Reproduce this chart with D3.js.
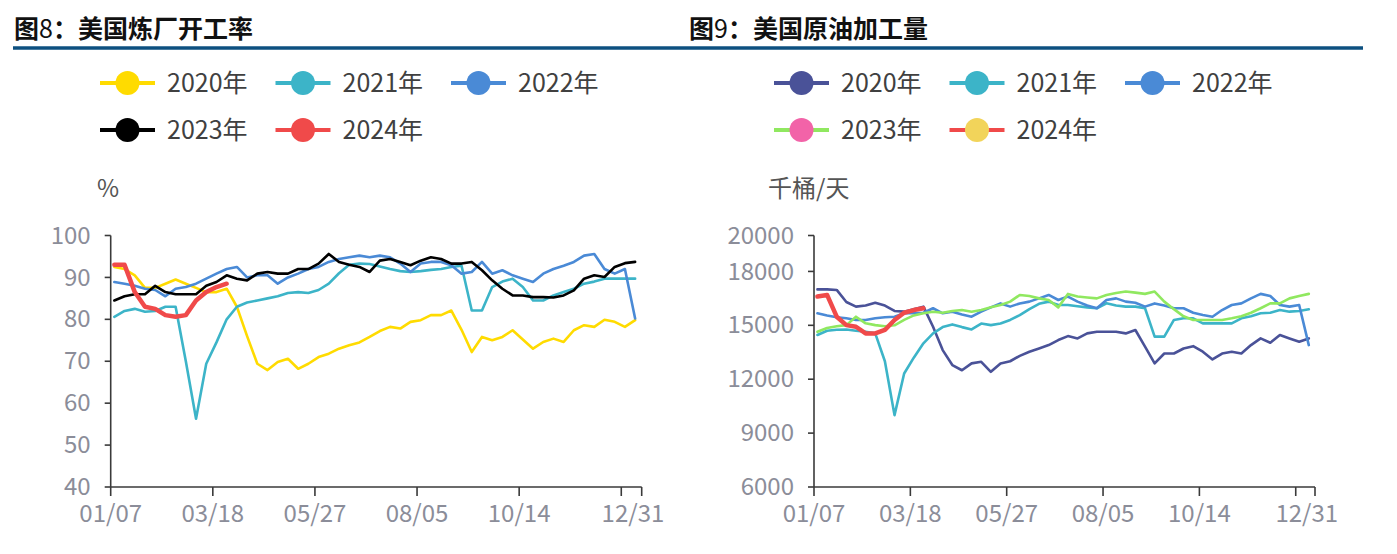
<!DOCTYPE html>
<html><head><meta charset="utf-8">
<script src="https://cdn.jsdelivr.net/npm/d3@7"></script>
<style>body{margin:0;background:#fff} svg{display:block} text{font-family:"Noto Sans CJK SC","Noto Sans",sans-serif}</style>
</head><body>
<svg id="c" width="1397" height="554"></svg>
<script>
// ---- data ----
const xTickLabels = ["01/07","03/18","05/27","08/05","10/14","12/31"];
const xTickDays   = [0,70,140,210,280,358];
const years = ["2020年","2021年","2022年","2023年","2024年"];

// 图8 美国炼厂开工率 (%)
const util2020 = [92.5,92,90.5,87.5,87.5,88.5,89.5,88.5,87.5,86.5,86.5,87.3,83,76,69.4,67.9,69.8,70.6,68.2,69.4,71,71.8,73,73.8,74.5,75.8,77.2,78.2,77.8,79.4,79.8,81,81,82.1,77.5,72.2,75.8,75,75.8,77.4,75.2,73,74.6,75.4,74.6,77.4,78.6,78.2,79.9,79.4,78.2,79.8];
const util2021 = [80.6,82,82.5,81.8,82,83,83,70,56.3,69.4,74.5,80,83,84,84.5,85,85.5,86.3,86.5,86.3,87,88.5,91,93,93.3,93.2,92.6,92,91.5,91.3,91.5,91.8,92,92.5,92.8,82.1,82.1,87.7,89,89.7,87.7,84.5,84.5,85.7,86.5,87.3,88.5,89,89.7,89.7,89.7,89.7];
const util2022 = [88.9,88.5,88,87.3,87,85.5,87.3,87.7,88.5,89.7,90.9,92,92.5,90,90.5,90.5,88.5,90,90.9,92,92.5,93.7,94.4,94.8,95.2,94.8,95.2,94.8,93.3,91.3,93.3,93.7,93.7,92.9,90.9,91.3,93.7,90.9,91.7,90.5,89.7,88.9,90.9,92,92.8,93.7,95.2,95.6,92,90.9,92,80.2];
const util2023 = [84.5,85.5,86,86,88,86.5,86,86,86,88,88.9,90.5,89.7,89.3,90.9,91.3,90.9,90.9,92,92,93.3,95.6,93.7,93,92.5,91.3,94,94.4,93.7,92.9,94,94.8,94.4,93.3,93.3,93.7,91.7,89.3,87.3,85.7,85.7,85.3,85.3,85.2,85.7,86.9,89.7,90.5,90.1,92.5,93.4,93.7];
const util2024 = [93,93,86.5,83,82.5,81,80.6,81,84.5,86.5,87.7,88.5];
const utilTicks = [40,50,60,70,80,90,100];

// 图9 美国原油加工量 (千桶/天)
const run2020 = [17000,17000,16970,16300,16040,16100,16260,16100,15800,15760,15900,16040,14920,13620,12790,12500,12880,12970,12410,12880,13000,13300,13530,13710,13900,14180,14400,14270,14550,14640,14640,14640,14550,14740,13810,12880,13430,13430,13710,13840,13530,13100,13430,13530,13430,13900,14270,14030,14460,14270,14090,14270];
const run2021 = [14460,14700,14750,14770,14700,14640,14550,13000,10000,12320,13200,14000,14550,14900,15050,14900,14770,15100,15010,15100,15300,15570,15900,16200,16320,16130,16130,16060,16000,15950,16230,16100,16040,16040,15950,14370,14370,15300,15390,15390,15110,15110,15110,15110,15390,15500,15670,15700,15850,15760,15800,15890];
const run2022 = [15670,15550,15450,15390,15300,15300,15390,15450,15480,15670,15670,15700,15950,15670,15760,15600,15480,15760,16000,16220,16040,16220,16320,16500,16690,16410,16600,16320,16100,15950,16410,16500,16320,16260,16040,16220,16100,15950,15950,15700,15570,15480,15850,16130,16220,16500,16750,16630,16130,16040,16130,13900];
const run2023 = [14640,14850,14950,15010,15480,15110,15010,14950,15000,15300,15550,15670,15760,15700,15800,15850,15760,15850,16000,16130,16320,16690,16630,16500,16410,16000,16750,16600,16550,16500,16690,16800,16880,16820,16750,16880,16320,15900,15500,15300,15300,15300,15300,15390,15500,15700,15950,16220,16220,16500,16630,16750];
const run2024 = [16600,16690,15480,15010,14920,14550,14550,14740,15300,15700,15850,15950];
const runTicks = [6000,9000,12000,15000,18000,20000];

// ---- drawing ----
const svg = d3.select("#c");
const TICK_COLOR = "#8b8d99", AXIS_COLOR = "#3a3a3a", TEXT_COLOR = "#404040";

function drawChart(cfg){
  const g = svg.append("g");
  // title
  const t = g.append("text").attr("x", cfg.titleX).attr("y", 38)
    .attr("font-size", 25).attr("font-weight", "bold").attr("fill", "#111");
  t.append("tspan").text("图");
  t.append("tspan").attr("font-weight","normal").text(cfg.num);
  t.append("tspan").text("：" + cfg.title);

  const x = d3.scaleLinear().domain([0, 364]).range([cfg.x0, cfg.x1]);
  const y = d3.scaleLinear().domain(cfg.yDomain).range([487, 235.5]);

  // legend
  cfg.series.forEach((s, i) => {
    const col = i % 3, row = Math.floor(i / 3);
    const lx = cfg.legendX + col * 175.5, ly = 83 + row * 47;
    const lg = g.append("g");
    lg.append("line").attr("x1", lx).attr("x2", lx + 55).attr("y1", ly).attr("y2", ly)
      .attr("stroke", s.color).attr("stroke-width", 4);
    lg.append("circle").attr("cx", lx + 27.5).attr("cy", ly).attr("r", 12)
      .attr("fill", s.dot || s.color);
    lg.append("text").attr("x", lx + 67).attr("y", ly).attr("dy", "0.36em")
      .attr("font-size", 25).attr("fill", TEXT_COLOR).text(s.name);
  });

  // unit
  g.append("text").attr("x", cfg.unitX).attr("y", 188).attr("dy", "0.36em")
    .attr("font-size", 24).attr("fill", "#555").text(cfg.unit);

  // y axis
  g.append("line").attr("x1", cfg.x0).attr("x2", cfg.x0).attr("y1", y(cfg.yDomain[0])).attr("y2", y(cfg.yDomain[1]))
    .attr("stroke", AXIS_COLOR).attr("stroke-width", 1.6);
  cfg.yTicks.forEach(v => {
    g.append("line").attr("x1", cfg.x0 - 6).attr("x2", cfg.x0).attr("y1", y(v)).attr("y2", y(v))
      .attr("stroke", AXIS_COLOR).attr("stroke-width", 1.6);
    g.append("text").attr("x", cfg.x0 - 20).attr("y", y(v)).attr("dy", "0.34em")
      .attr("text-anchor", "end").attr("font-size", 24).attr("fill", TICK_COLOR).text(v);
  });

  // x axis
  g.append("line").attr("x1", cfg.x0).attr("x2", cfg.x1).attr("y1", 487).attr("y2", 487)
    .attr("stroke", AXIS_COLOR).attr("stroke-width", 1.6);
  [0,70,140,210,280,350,364].forEach(d => {
    g.append("line").attr("x1", x(d)).attr("x2", x(d)).attr("y1", 487).attr("y2", 496)
      .attr("stroke", AXIS_COLOR).attr("stroke-width", 1.6);
  });
  xTickLabels.forEach((lab, i) => {
    g.append("text").attr("x", x(xTickDays[i])).attr("y", 522)
      .attr("text-anchor", "middle").attr("font-size", 24).attr("fill", TICK_COLOR).text(lab);
  });

  // lines
  const line = d3.line().x((d, i) => x(i * 7 + 2.5)).y(d => y(d));
  cfg.series.forEach(s => {
    g.append("path").attr("d", line(s.values)).attr("fill", "none")
      .attr("stroke", s.color).attr("stroke-width", s.width || 2.6)
      .attr("stroke-linejoin", "round").attr("stroke-linecap", "round");
  });
}

// header rule
svg.append("line").attr("x1", 13).attr("x2", 1363).attr("y1", 48).attr("y2", 48)
  .attr("stroke", "#0d5080").attr("stroke-width", 3.5);

drawChart({
  titleX: 14, num: "8", title: "美国炼厂开工率",
  x0: 110.7, x1: 641.7, yDomain: [40, 100], yTicks: utilTicks,
  legendX: 100, unitX: 97, unit: "%",
  series: [
    {name: years[0], values: util2020, color: "#ffdb00"},
    {name: years[1], values: util2021, color: "#3cb4c8"},
    {name: years[2], values: util2022, color: "#4a8ad6"},
    {name: years[3], values: util2023, color: "#000000"},
    {name: years[4], values: util2024, color: "#f04a4a", width: 4.5}
  ]
});

drawChart({
  titleX: 689, num: "9", title: "美国原油加工量",
  x0: 814, x1: 1315, yDomain: [6000, 20000], yTicks: runTicks,
  legendX: 774, unitX: 768, unit: "千桶/天",
  series: [
    {name: years[0], values: run2020, color: "#4a5298"},
    {name: years[1], values: run2021, color: "#3cb4c8"},
    {name: years[2], values: run2022, color: "#4a8ad6"},
    {name: years[3], values: run2023, color: "#90e860", dot: "#f263a8"},
    {name: years[4], values: run2024, color: "#f04a4a", dot: "#f2d45a", width: 4.5}
  ]
});
</script>
</body></html>
